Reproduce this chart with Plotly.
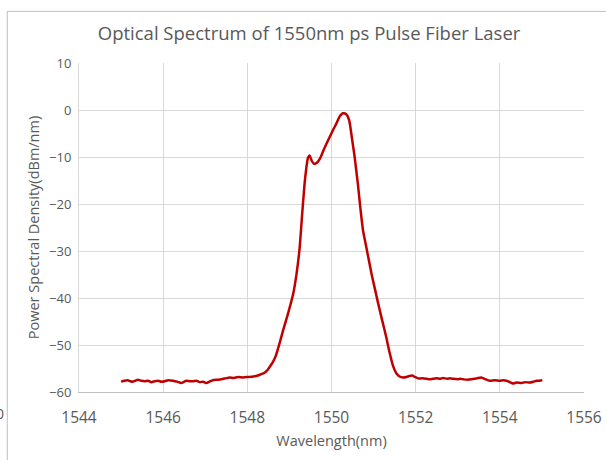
import plotly.graph_objs as go

# wavelength (nm) and power spectral density (dBm/nm)
wavelength = [
    1545.00, 1545.08, 1545.16, 1545.22, 1545.28, 1545.34, 1545.40, 1545.48,
    1545.56, 1545.64, 1545.72, 1545.80, 1545.88, 1545.96, 1546.04, 1546.12,
    1546.23, 1546.33, 1546.43, 1546.50, 1546.55, 1546.63, 1546.71, 1546.79,
    1546.87, 1546.95, 1547.03, 1547.10, 1547.18, 1547.28, 1547.38, 1547.48,
    1547.58, 1547.68, 1547.78, 1547.90, 1548.02, 1548.14, 1548.25, 1548.33,
    1548.41, 1548.49, 1548.55, 1548.61, 1548.68, 1548.76, 1548.85, 1548.97,
    1549.09, 1549.17, 1549.24, 1549.30, 1549.36, 1549.40, 1549.44, 1549.48,
    1549.53, 1549.58, 1549.62, 1549.68, 1549.75, 1549.80, 1549.88, 1549.96,
    1550.04, 1550.12, 1550.20, 1550.27, 1550.35, 1550.42, 1550.47, 1550.51,
    1550.55, 1550.59, 1550.63, 1550.67, 1550.71, 1550.75, 1550.83, 1550.95,
    1551.03, 1551.11, 1551.20, 1551.30, 1551.38, 1551.46, 1551.54, 1551.62,
    1551.70, 1551.78, 1551.85, 1551.92, 1551.98, 1552.06, 1552.16, 1552.26,
    1552.34, 1552.41, 1552.50, 1552.58, 1552.65, 1552.75, 1552.82, 1552.89,
    1553.00, 1553.06, 1553.13, 1553.23, 1553.33, 1553.45, 1553.56, 1553.66,
    1553.76, 1553.88, 1554.00, 1554.08, 1554.16, 1554.24, 1554.31, 1554.40,
    1554.51, 1554.60, 1554.71, 1554.80, 1554.87, 1554.94, 1555.01,
]
psd = [
    -57.8, -57.6, -57.5, -57.7, -57.8, -57.6, -57.4, -57.6,
    -57.7, -57.6, -57.9, -57.7, -57.6, -57.8, -57.7, -57.5,
    -57.6, -57.8, -58.1, -57.8, -57.6, -57.7, -57.7, -57.6,
    -57.9, -57.8, -58.1, -57.8, -57.5, -57.4, -57.3, -57.1,
    -56.9, -57.0, -56.8, -56.9, -56.8, -56.7, -56.5, -56.2,
    -55.9, -55.2, -54.4, -53.6, -52.2, -49.8, -46.9, -43.2,
    -39.1, -34.8, -29.6, -22.5, -15.7, -12.5, -10.2, -9.7,
    -10.8, -11.4, -11.4, -11.0, -9.9, -8.8, -7.2, -5.7,
    -4.2, -2.8, -1.3, -0.7, -0.9, -2.2, -5.0, -7.5,
    -10.0, -13.0, -16.0, -19.5, -22.8, -25.7, -29.3, -34.8,
    -38.0, -41.2, -44.6, -48.3, -51.6, -54.4, -56.0, -56.7,
    -56.9, -56.8, -56.6, -56.5, -56.8, -57.1, -57.1, -57.2,
    -57.3, -57.2, -57.1, -57.2, -57.0, -57.2, -57.1, -57.2,
    -57.3, -57.2, -57.3, -57.4, -57.3, -57.1, -56.9, -57.3,
    -57.6, -57.5, -57.6, -57.5, -57.6, -57.9, -58.2, -58.0,
    -58.1, -57.9, -58.0, -57.8, -57.6, -57.6, -57.5,
]

x_ticks = [1544, 1546, 1548, 1550, 1552, 1554, 1556]
y_ticks = [10, 0, -10, -20, -30, -40, -50, -60]

FONT = 'Open Sans'
GREY = '#595959'
CONFIG = {'displayModeBar': False}

trace = go.Scatter(
    x=wavelength,
    y=psd,
    mode='lines',
    line=dict(color='#C00000', width=2.5, shape='spline', smoothing=0.6),
    showlegend=False,
)

layout = go.Layout(
    width=606,
    height=460,
    margin=dict(l=79, r=22, t=63, b=68, autoexpand=False),
    paper_bgcolor='white',
    plot_bgcolor='white',
    font=dict(family=FONT, color=GREY),
    title=dict(
        text='Optical Spectrum of 1550nm ps Pulse Fiber Laser',
        x=0.51, xanchor='center', xref='container', y=0.928, yanchor='middle',
        font=dict(size=18.5, color=GREY),
    ),
    xaxis=dict(
        range=[1544, 1556],
        tickvals=x_ticks,
        showgrid=True, gridcolor='#d9d9d9', gridwidth=1,
        zeroline=False,
        showline=True, linecolor='#bfbfbf', linewidth=1,
        ticks='', tickfont=dict(size=15.5, color=GREY),
        ticklabelstandoff=11,
        automargin=False,
        title=dict(text='Wavelength(nm)', font=dict(size=14.5, color=GREY), standoff=9),
    ),
    yaxis=dict(
        range=[-60, 10],
        tickvals=y_ticks,
        showgrid=True, gridcolor='#d9d9d9', gridwidth=1,
        zeroline=False,
        showline=True, linecolor='#d9d9d9', linewidth=1,
        ticks='', tickfont=dict(size=13, color=GREY),
        ticklabelstandoff=4,
        automargin=False,
        title=dict(text='Power Spectral Density(dBm/nm)', font=dict(size=14.5, color=GREY), standoff=6),
    ),
    shapes=[
        # chart frame edges visible in the screenshot
        dict(type='line', xref='paper', yref='paper',
             x0=-0.142, x1=-0.142, y0=1.157, y1=-0.21,
             line=dict(color='#bfbfbf', width=1)),
        dict(type='line', xref='paper', yref='paper',
             x0=-0.142, x1=1.05, y0=1.157, y1=1.157,
             line=dict(color='#bfbfbf', width=1)),
    ],
    annotations=[
        dict(text='0', xref='paper', yref='paper', x=-0.157, y=-0.065,
             showarrow=False, xanchor='center', yanchor='middle',
             font=dict(size=14, color=GREY)),
    ],
)

fig = go.Figure(data=[trace], layout=layout)
# drop the page's default body margin so the figure sits at the window corner
fig.write_html('out.html', config=CONFIG,
               post_script="document.body.style.margin='0';")
